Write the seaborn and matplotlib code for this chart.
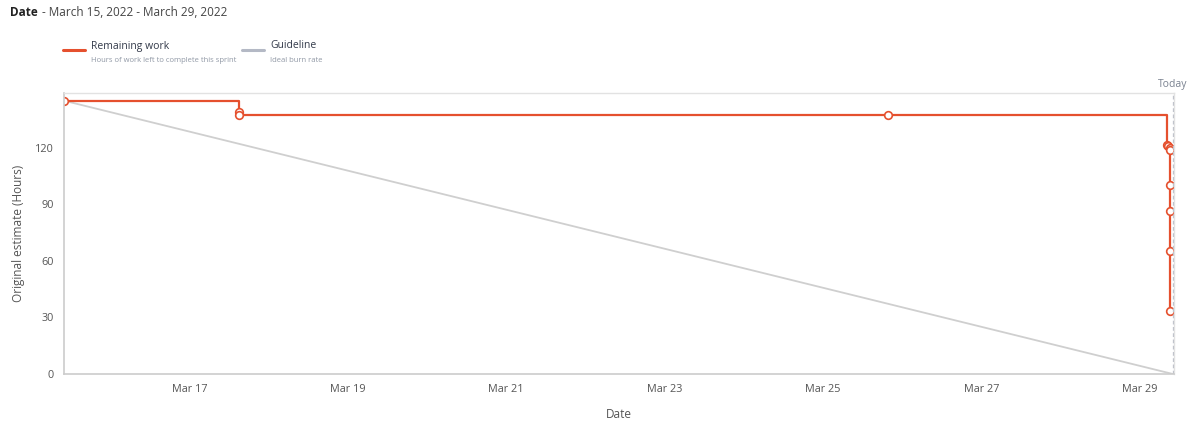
import numpy as np, pandas as pd
import matplotlib
matplotlib.use("Agg")
import matplotlib.pyplot as plt
import matplotlib.dates as mdates
from matplotlib.lines import Line2D
import seaborn as sns

# remaining work (step line, hours)
work_times = ["2022-03-15 10:00", "2022-03-17 15:10", "2022-03-17 15:10", "2022-03-25 19:45",
              "2022-03-29 08:15", "2022-03-29 08:25", "2022-03-29 09:00", "2022-03-29 09:05",
              "2022-03-29 09:05", "2022-03-29 09:05", "2022-03-29 09:05", "2022-03-29 09:05"]
work_hours = [145, 139, 137.4, 137.4, 121.5, 121, 120, 119, 100.5, 86.5, 65.5, 33.5]

# ideal burn
guide_times = ["2022-03-15 10:00", "2022-03-29 10:00"]
guide_hours = [145, 0]

today = "2022-03-29 10:00"
y_ticks = [0, 30, 60, 90, 120]
x_ticks = ["2022-03-17", "2022-03-19", "2022-03-21", "2022-03-23", "2022-03-25", "2022-03-27", "2022-03-29"]

RED = "#e5502e"
GREY_LINE = "#cfcfcf"
TXT = "#555555"

sns.set_theme(style="white")
plt.rcParams["font.family"] = ["Open Sans", "DejaVu Sans"]

df_work = pd.DataFrame({"t": pd.to_datetime(work_times), "h": work_hours})
df_guide = pd.DataFrame({"t": pd.to_datetime(guide_times), "h": guide_hours})

fig = plt.figure(figsize=(11.89, 4.23), dpi=100)
ax = fig.add_axes([0.0538, 0.1158, 0.9336, 0.664])

sns.lineplot(data=df_guide, x="t", y="h", ax=ax, color=GREY_LINE, linewidth=1.3,
             estimator=None, sort=False)
sns.lineplot(data=df_work, x="t", y="h", ax=ax, color=RED, linewidth=1.6,
             estimator=None, sort=False, drawstyle="steps-post",
             marker="o", markersize=5.5, markerfacecolor="white",
             markeredgecolor=RED, markeredgewidth=1.2)

ax.axvline(pd.to_datetime(today), color="#b8bcc6", linestyle=(0, (3, 2)), linewidth=0.9)
ax.text(pd.to_datetime(today), 150.5, "Today", ha="center", va="bottom",
        fontsize=7.5, color="#7a8290")

ax.set_xlim(pd.to_datetime("2022-03-15 10:00"), pd.to_datetime("2022-03-29 10:20"))
ax.set_ylim(0, 149)
ax.set_yticks(y_ticks)
ax.set_xticks(pd.to_datetime(x_ticks))
ax.xaxis.set_major_formatter(mdates.DateFormatter("%b %d"))
ax.tick_params(axis="both", labelsize=7.8, colors=TXT, length=4, width=0.8)
ax.tick_params(axis="both", color="#cccccc")

for s in ["left", "bottom"]:
    ax.spines[s].set_color("#cccccc")
    ax.spines[s].set_linewidth(1.2)
for s in ["top", "right"]:
    ax.spines[s].set_color("#e2e2e2")
    ax.spines[s].set_linewidth(1.0)

ax.set_xlabel("Date", fontsize=8.5, color=TXT, labelpad=9)
ax.set_ylabel("Original estimate (Hours)", fontsize=8.5, color=TXT, labelpad=7)

# header
fig.text(10 / 1189, 1 - 12 / 423, "Date", fontsize=8.5, fontweight="bold", color="#222222", va="center")
fig.text(42 / 1189, 1 - 12 / 423, "- March 15, 2022 - March 29, 2022", fontsize=8.5, color="#444444", va="center")

# custom legend
def legend_item(x0, label, sub, color):
    fig.add_artist(Line2D([x0 / 1189, (x0 + 22) / 1189], [1 - 50 / 423, 1 - 50 / 423],
                          color=color, linewidth=2.2))
    fig.text((x0 + 28) / 1189, 1 - 46 / 423, label, fontsize=7.5, color="#333a4a", va="center")
    fig.text((x0 + 28) / 1189, 1 - 60 / 423, sub, fontsize=5.5, color="#9098a5", va="center")

legend_item(63, "Remaining work", "Hours of work left to complete this sprint", RED)
legend_item(242, "Guideline", "Ideal burn rate", "#b4b9c5")

fig.savefig("out.png", dpi=100)
